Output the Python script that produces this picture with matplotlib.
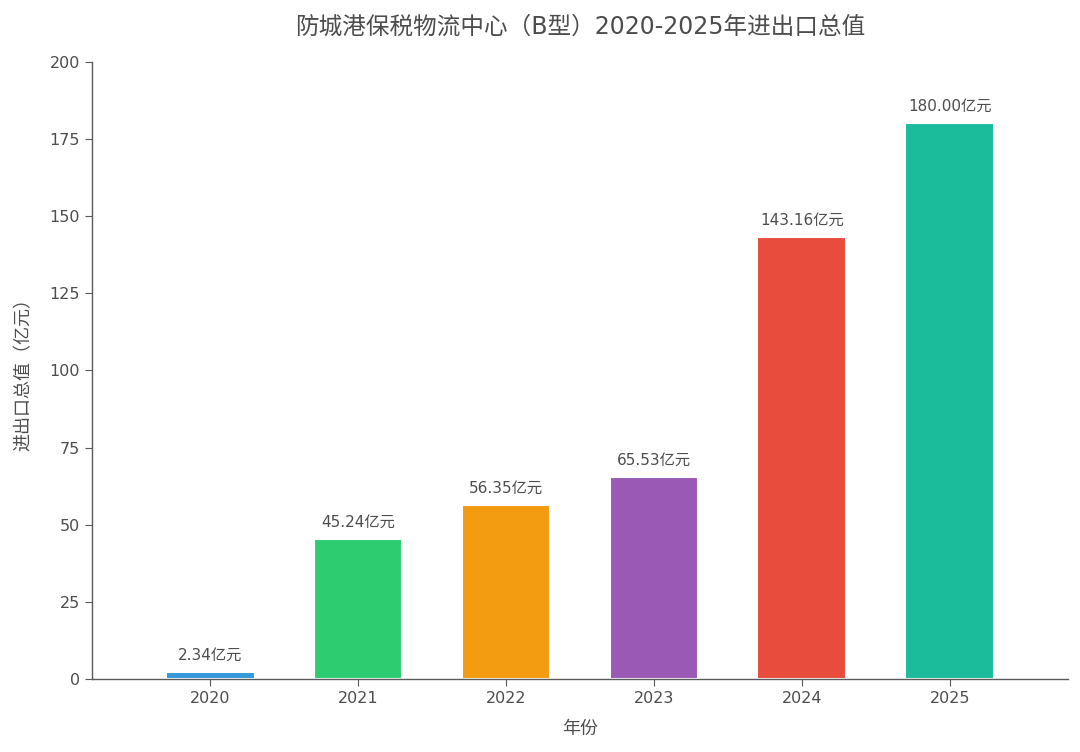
import matplotlib
matplotlib.use("Agg")
import matplotlib.pyplot as plt

plt.rcParams['font.family'] = ['DejaVu Sans', 'Noto Sans CJK SC']

years = ["2020", "2021", "2022", "2023", "2024", "2025"]
values = [2.34, 45.24, 56.35, 65.53, 143.16, 180.00]
colors = ["#3498db", "#2ecc71", "#f39c12", "#9b59b6", "#e74c3c", "#1abc9c"]
title = "防城港保税物流中心（B型）2020-2025年进出口总值"

text_color = "#4d4d4d"
axis_color = "#5a5a5a"

fig = plt.figure(figsize=(10.8, 7.52), dpi=100)
ax = fig.add_axes([0.085, 0.097, 0.904, 0.821])

x = range(len(years))
bars = ax.bar(x, values, width=0.6, color=colors, edgecolor="white", linewidth=1.5)

for b, v in zip(bars, values):
    ax.text(b.get_x() + b.get_width() / 2, v + 3, "{:.2f}亿元".format(v),
            ha="center", va="bottom", fontsize=11, color=text_color)

ax.set_xticks(list(x))
ax.set_xticklabels(years)
ax.set_xlim(-0.8, 5.8)
ax.set_ylim(0, 200)
ax.set_yticks([0, 25, 50, 75, 100, 125, 150, 175, 200])

ax.spines['top'].set_visible(False)
ax.spines['right'].set_visible(False)
for s in ['left', 'bottom']:
    ax.spines[s].set_color(axis_color)
    ax.spines[s].set_linewidth(1.0)
ax.tick_params(colors=axis_color, labelcolor=text_color, labelsize=11.5, length=5)

ax.set_xlabel("年份", fontsize=13, color=text_color, labelpad=10)
ax.set_ylabel("进出口总值（亿元）", fontsize=13, color=text_color, labelpad=12)
fig.text(0.537, 0.965, title, ha="center", va="center", fontsize=17, color=text_color)

fig.savefig("out.png", dpi=100)
